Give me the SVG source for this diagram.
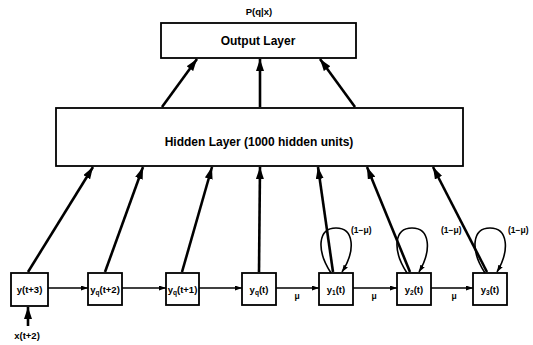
<svg xmlns="http://www.w3.org/2000/svg" width="533" height="345" viewBox="0 0 533 345">
<style>
.box{fill:#fff;stroke:#000;stroke-width:1.8}
.t{font-family:"Liberation Sans",Arial,sans-serif;font-weight:bold;fill:#000}
.thick{stroke:#000;stroke-width:2.6;fill:none}
.thin{stroke:#000;stroke-width:1.3;fill:none}
.loop{stroke:#000;stroke-width:1.6;fill:none}
</style>
<defs>
<marker id="ah" markerUnits="userSpaceOnUse" markerWidth="12" markerHeight="8" refX="12" refY="4" orient="auto">
<path d="M0,0 L12,4 L0,8 z" fill="#000"/>
</marker>
<marker id="as" markerUnits="userSpaceOnUse" markerWidth="7" markerHeight="5" refX="7" refY="2.5" orient="auto">
<path d="M0,0 L7,2.5 L0,5 z" fill="#000"/>
</marker>
</defs>
<text class="t" x="259" y="15" font-size="9.5" text-anchor="middle">P(q|x)</text>
<g id="output">
<rect class="box" x="161" y="23" width="195" height="35"/>
<text class="t" x="258" y="45" font-size="12" text-anchor="middle">Output Layer</text>
</g>
<g id="hidden">
<rect class="box" x="56" y="108" width="407" height="58"/>
<text class="t" x="259" y="146" font-size="12" text-anchor="middle">Hidden Layer (1000 hidden units)</text>
</g>
<g id="n_yt3">
<rect class="box" x="11" y="273" width="37" height="33"/>
<text class="t" x="29.5" y="293" font-size="9.5" text-anchor="middle">y(t+3)</text>
</g>
<g id="n_yq2">
<rect class="box" x="88" y="273" width="34" height="32"/>
<text class="t" x="105" y="293" font-size="9.5" text-anchor="middle">y<tspan font-size="6.5" dy="2">q</tspan><tspan dy="-2">(t+2)</tspan></text>
</g>
<g id="n_yq1">
<rect class="box" x="166" y="273" width="33" height="32"/>
<text class="t" x="182.5" y="293" font-size="9.5" text-anchor="middle">y<tspan font-size="6.5" dy="2">q</tspan><tspan dy="-2">(t+1)</tspan></text>
</g>
<g id="n_yq0">
<rect class="box" x="242" y="273" width="34" height="32"/>
<text class="t" x="259" y="293" font-size="9.5" text-anchor="middle">y<tspan font-size="6.5" dy="2">q</tspan><tspan dy="-2">(t)</tspan></text>
</g>
<g id="n_y1">
<rect class="box" x="319" y="273" width="34" height="32"/>
<text class="t" x="336" y="293" font-size="9.5" text-anchor="middle">y<tspan font-size="6.5" dy="2">1</tspan><tspan dy="-2">(t)</tspan></text>
</g>
<g id="n_y2">
<rect class="box" x="397" y="273" width="34" height="32"/>
<text class="t" x="414" y="293" font-size="9.5" text-anchor="middle">y<tspan font-size="6.5" dy="2">2</tspan><tspan dy="-2">(t)</tspan></text>
</g>
<g id="n_y3">
<rect class="box" x="473" y="273" width="34" height="32"/>
<text class="t" x="490" y="293" font-size="9.5" text-anchor="middle">y<tspan font-size="6.5" dy="2">3</tspan><tspan dy="-2">(t)</tspan></text>
</g>
<text class="t" x="27" y="339" font-size="9.5" text-anchor="middle">x(t+2)</text>
<g id="connectors">
<line class="thick" x1="162" y1="107" x2="197" y2="59" marker-end="url(#ah)"/>
<line class="thick" x1="260" y1="107" x2="260" y2="59" marker-end="url(#ah)"/>
<line class="thick" x1="355" y1="107" x2="320" y2="59" marker-end="url(#ah)"/>
<line class="thick" x1="28" y1="272" x2="93" y2="167" marker-end="url(#ah)"/>
<line class="thick" x1="105" y1="272" x2="143" y2="167" marker-end="url(#ah)"/>
<line class="thick" x1="182" y1="272" x2="212" y2="167" marker-end="url(#ah)"/>
<line class="thick" x1="259" y1="272" x2="260" y2="167" marker-end="url(#ah)"/>
<line class="thick" x1="333" y1="272" x2="318" y2="167" marker-end="url(#ah)"/>
<line class="thick" x1="410" y1="272" x2="367" y2="167" marker-end="url(#ah)"/>
<line class="thick" x1="487" y1="272" x2="433" y2="167" marker-end="url(#ah)"/>
<line class="thick" x1="28" y1="326" x2="28" y2="307" marker-end="url(#ah)"/>
<line class="thin" x1="48" y1="288" x2="88" y2="288" marker-end="url(#as)"/>
<line class="thin" x1="122" y1="288" x2="166" y2="288" marker-end="url(#as)"/>
<line class="thin" x1="199" y1="288" x2="242" y2="288" marker-end="url(#as)"/>
<line class="thin" x1="276" y1="288" x2="319" y2="288" marker-end="url(#as)"/>
<line class="thin" x1="353" y1="288" x2="397" y2="288" marker-end="url(#as)"/>
<line class="thin" x1="431" y1="288" x2="473" y2="288" marker-end="url(#as)"/>
<path class="loop" d="M331,273 C316,250 318,228 336,228 C354,228 356,250 342,272" marker-end="url(#as)"/>
<path class="loop" d="M407,273 C392,250 394,228 412,228 C430,228 432,250 419,272" marker-end="url(#as)"/>
<path class="loop" d="M485,273 C470,250 472,228 490,228 C508,228 510,250 497,272" marker-end="url(#as)"/>
</g>
<text class="t" x="297" y="299" font-size="8.5" text-anchor="middle">μ</text>
<text class="t" x="374" y="299" font-size="8.5" text-anchor="middle">μ</text>
<text class="t" x="454" y="299" font-size="8.5" text-anchor="middle">μ</text>
<text class="t" x="351" y="233" font-size="8.5">(1−μ)</text>
<text class="t" x="441" y="233" font-size="8.5">(1−μ)</text>
<text class="t" x="508" y="233" font-size="8.5">(1−μ)</text>
</svg>
